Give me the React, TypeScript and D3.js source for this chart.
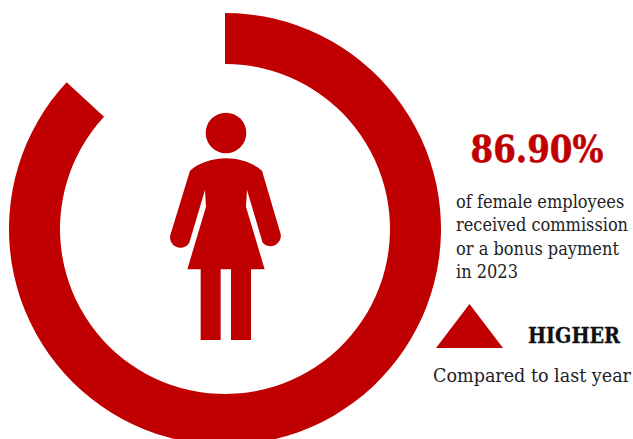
import React from "react";
import * as d3 from "d3";

// Share of female employees paid a commission or bonus, in percent.
const sharePercent = [86.9];
const headlineLabel = ["86.90%"];
const captionLines = ["of female employees", "received commission", "or a bonus payment", "in 2023"];
const trendLabel = ["HIGHER"];
const trendNote = ["Compared to last year"];

const RED = "#c00000";
const WIDTH = 633;
const HEIGHT = 439;
const SERIF = "'DejaVu Serif Condensed', 'DejaVu Serif', serif";

// Pictogram outline, drawn at three times its final size.
const FIGURE_BODY =
  "M228 175 C185 175 145 190 120 212 L62 402 A31 31 0 0 0 118 428 L165 270 L168 320 L112 508 L152 508 L152 720 L212 720 L212 508 L243 508 L243 720 L303 720 L303 508 L344 508 L288 320 L291 270 L338 428 A31 31 0 0 0 392 402 L336 212 C311 190 271 175 228 175 Z";

export default function App() {
  const angle = d3.scaleLinear().domain([0, 100]).range([0, 2 * Math.PI]);
  const ring = d3.arc()({
    innerRadius: 165,
    outerRadius: 216,
    startAngle: 0,
    endAngle: angle(sharePercent[0]),
  }) as string;

  const triangle = d3.line()([
    [436, 348],
    [469.5, 304],
    [503, 348],
  ]) as string;

  const captionY = d3.scalePoint<number>().domain([0, 1, 2, 3]).range([208, 278]);

  return (
    <svg
      width={WIDTH}
      height={HEIGHT}
      viewBox={`0 0 ${WIDTH} ${HEIGHT}`}
      style={{ position: "fixed", left: 0, top: 0, background: "#fff" }}
    >
      <path d={ring} transform="translate(225,229)" fill={RED} />
      <g transform="translate(150,100) scale(0.3333)" fill={RED}>
        <circle cx={228} cy={99} r={61} />
        <path d={FIGURE_BODY} />
      </g>
      <text x={537} y={162} textAnchor="middle" fontFamily={SERIF} fontWeight={700} fontSize={37} fill={RED}
        stroke={RED} strokeWidth={0.5} textLength={133} lengthAdjust="spacingAndGlyphs">
        {headlineLabel[0]}
      </text>
      {captionLines.map((line, i) => (
        <text key={line} x={456} y={captionY(i)} fontFamily={SERIF} fontSize={18} fill="#222">
          {line}
        </text>
      ))}
      <path d={triangle} fill={RED} />
      <text x={528} y={343} fontFamily={SERIF} fontWeight={700} fontSize={22} fill="#111"
        stroke="#111" strokeWidth={0.3} textLength={92} lengthAdjust="spacingAndGlyphs">
        {trendLabel[0]}
      </text>
      <text x={433} y={382} fontFamily={SERIF} fontSize={18} fill="#222"
        textLength={198} lengthAdjust="spacingAndGlyphs">
        {trendNote[0]}
      </text>
    </svg>
  );
}
